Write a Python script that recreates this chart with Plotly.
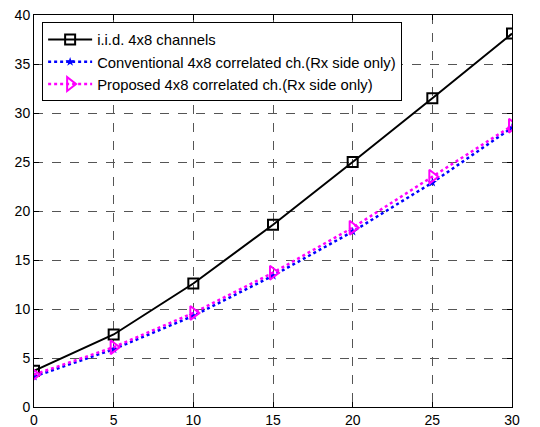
import plotly.graph_objects as go

snr = [0, 5, 10, 15, 20, 25, 30]
iid = [3.7, 7.4, 12.6, 18.6, 25.0, 31.5, 38.1]
conv = [3.1, 5.9, 9.3, 13.4, 17.9, 22.9, 28.5]
prop = [3.3, 6.1, 9.6, 13.7, 18.3, 23.5, 28.7]

names = ["i.i.d. 4x8 channels",
         "Conventional 4x8 correlated ch.(Rx side only)",
         "Proposed 4x8 correlated ch.(Rx side only)"]

fig = go.Figure()
fig.add_trace(go.Scatter(x=snr, y=iid, name=names[0], mode="lines+markers",
                         line=dict(color="black", width=2),
                         marker=dict(symbol="square-open", size=10, color="black",
                                     line=dict(width=2, color="black"))))
fig.add_trace(go.Scatter(x=snr, y=conv, name=names[1], mode="lines+markers",
                         line=dict(color="#0000ff", width=2.5, dash="dot"),
                         marker=dict(symbol="star", size=7, color="#0000ff")))
fig.add_trace(go.Scatter(x=snr, y=prop, name=names[2], mode="lines+markers",
                         line=dict(color="#ff00ff", width=2.5, dash="dot"),
                         marker=dict(symbol="triangle-right-open", size=12, color="#ff00ff",
                                     line=dict(width=2, color="#ff00ff"))))

axis_common = dict(showline=True, linecolor="black", linewidth=1, mirror="ticks",
                   ticks="inside", ticklen=5, tickcolor="black", automargin=False,
                   showgrid=True, gridcolor="#555555", griddash="dash", gridwidth=1,
                   zeroline=False, tickfont=dict(family="Liberation Sans, Arial", size=14, color="black"))

fig.update_xaxes(range=[0, 30], tickvals=[0, 5, 10, 15, 20, 25, 30], ticklabelstandoff=0, **axis_common)
fig.update_yaxes(range=[0, 40], tickvals=[0, 5, 10, 15, 20, 25, 30, 35, 40], **axis_common)

fig.update_layout(
    width=540, height=427,
    margin=dict(l=34, r=28, t=15, b=20),
    paper_bgcolor="white", plot_bgcolor="white",
    font=dict(family="Liberation Sans, Arial", size=14, color="black"),
    legend=dict(x=0.017, y=0.981, xanchor="left", yanchor="top",
                bgcolor="white", bordercolor="black", borderwidth=1,
                font=dict(size=14.8), tracegroupgap=0, itemwidth=44),
    showlegend=True,
)

fig.write_html("out.html")
